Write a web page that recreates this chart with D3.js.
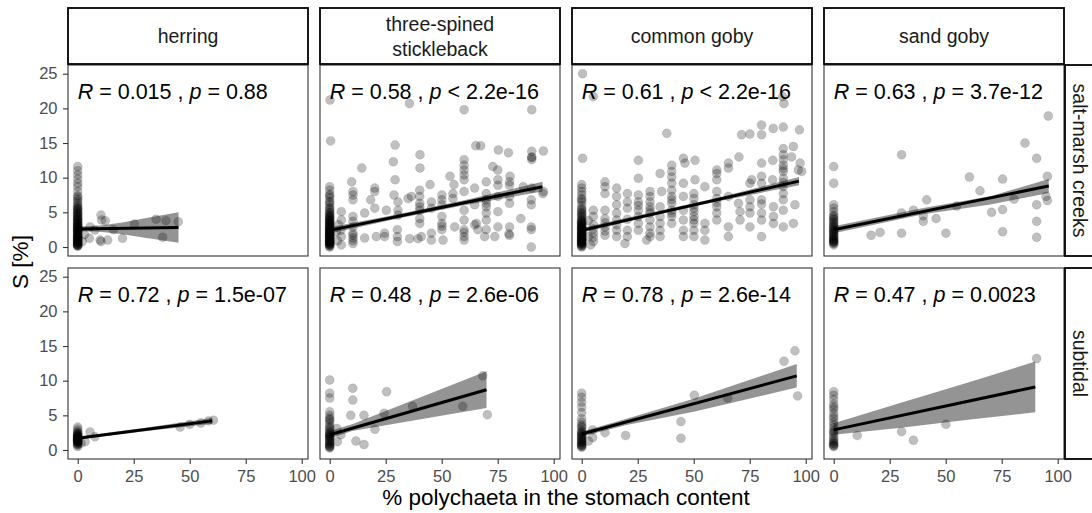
<!DOCTYPE html>
<html>
<head>
<meta charset="utf-8">
<script src="https://cdn.jsdelivr.net/npm/d3@7"></script>
<style>
  body { margin: 0; background: #fff; }
  svg text { font-family: "Liberation Sans", Arial, Helvetica, sans-serif; }
</style>
</head>
<body>
<svg id="chart" width="1092" height="513"></svg>
<script>
// ---- facets ----
const speciesLines = [["herring"], ["three-spined", "stickleback"], ["common goby"], ["sand goby"]];
const habitats = ["salt-marsh creeks", "subtidal"];
const xTicks = [0, 25, 50, 75, 100];
const yTicks = [0, 5, 10, 15, 20, 25];

// ---- correlation labels: [R, p operator, p] ----
const statCreek = [["0.015", "=", "0.88"], ["0.58", "<", "2.2e-16"], ["0.61", "<", "2.2e-16"], ["0.63", "=", "3.7e-12"]];
const statSubtidal = [["0.72", "=", "1.5e-07"], ["0.48", "=", "2.6e-06"], ["0.78", "=", "2.6e-14"], ["0.47", "=", "0.0023"]];

// ---- S [%] of stomachs without polychaeta (x = 0) ----
const herringCreekZero = [11.6, 11.0, 10.4, 9.8, 9.2, 8.7, 8.0, 7.4, 6.9, 6.3, 6.0, 5.8, 5.5, 5.2, 5.0, 4.8, 4.6, 4.4, 4.2, 4.0, 3.8, 3.6, 3.3, 3.0, 2.7, 2.4, 2.1, 1.8, 1.5, 1.2, 0.9, 0.6, 0.3, 0.1, 2.2, 1.6, 1.0, 0.5, 3.9, 2.9, 2.5, 1.3, 0.7, 0.2, 3.1, 1.9, 6.6, 5.4, 4.5, 3.5, 2.6, 1.4, 0.8, 0.4, 7.2, 4.1, 2.0, 1.1, 3.4, 2.8, 2.3, 1.7, 1.2, 0.6, 0.3, 3.2, 2.5, 1.5, 0.9, 0.2, 5.6, 4.9];
const sticklebackCreekZero = [8.7, 8.2, 7.6, 7.1, 6.6, 6.1, 5.7, 5.3, 4.9, 4.5, 4.2, 3.9, 3.6, 3.3, 3.0, 2.7, 2.5, 2.2, 2.0, 1.8, 1.6, 1.4, 1.2, 1.0, 0.8, 0.6, 0.4, 0.2, 0.1, 5.0, 4.0, 3.1, 2.3, 1.5, 0.7, 0.3, 6.4, 7.4, 2.8, 1.1, 3.5, 1.9, 0.9, 0.5, 2.6, 4.7, 1.3, 3.7, 2.9, 2.1, 1.7, 0.0, 5.5, 4.3, 3.4, 2.4, 1.6, 1.0, 0.4, 4.4, 3.2, 2.2, 1.4, 0.6, 3.8, 2.7, 1.8, 0.8];
const gobyCreekZero = [9.0, 8.5, 8.0, 7.5, 7.0, 6.5, 6.0, 5.6, 5.2, 4.8, 4.4, 4.0, 3.7, 3.4, 3.1, 2.8, 2.5, 2.2, 1.9, 1.6, 1.3, 1.0, 0.7, 0.4, 0.1, 4.6, 3.5, 2.6, 1.8, 1.1, 0.5, 0.2, 2.3, 1.5, 3.0, 6.8, 0.0, 0.8, 3.8, 2.0, 1.2, 0.6, 2.9, 5.4, 1.7, 3.3, 2.4, 1.4, 0.3, 4.2, 2.7, 0.9, 3.6, 2.1, 1.3, 0.5, 4.9, 3.2, 1.9, 0.8, 2.6, 1.0];
const sandGobyCreekZero = [11.6, 9.2, 6.1, 5.6, 5.1, 4.6, 4.2, 3.8, 3.4, 3.0, 2.7, 2.4, 2.1, 1.8, 1.5, 1.2, 0.9, 0.6, 0.3, 2.9, 2.0, 1.0, 3.6, 0.5, 4.4, 2.5, 1.4, 0.8, 3.2, 2.2, 1.6, 0.7, 4.0, 1.1];
const herringSubtidalZero = [3.3, 3.0, 2.7, 2.5, 2.3, 2.1, 1.9, 1.7, 1.5, 1.3, 1.1, 0.9, 0.7, 0.5, 2.0, 1.6, 1.2, 1.8, 1.4, 1.0, 2.4, 1.9, 1.5, 1.1, 2.2, 1.7, 1.3, 0.8, 2.0, 1.5];
const sticklebackSubtidalZero = [10.1, 8.2, 7.5, 5.5, 5.0, 4.6, 4.2, 3.8, 3.4, 3.0, 2.7, 2.4, 2.1, 1.8, 1.5, 1.2, 0.9, 0.6, 0.3, 4.4, 3.2, 2.0, 1.0, 0.4, 2.5, 1.6, 0.7, 2.2, 1.3, 0.5, 1.9];
const gobySubtidalZero = [8.2, 7.6, 6.9, 6.2, 5.4, 4.5, 4.0, 3.6, 3.2, 2.8, 2.5, 2.2, 1.9, 1.6, 1.3, 1.0, 0.7, 0.4, 3.4, 2.0, 1.1, 0.5, 2.6, 1.5, 0.8, 2.3, 1.2, 0.6, 1.8];
const sandGobySubtidalZero = [8.4, 7.9, 7.3, 6.6, 5.9, 5.3, 4.5, 3.6, 2.8, 2.0, 1.4, 0.7, 0.5, 4.0, 3.2, 2.4, 1.0, 6.2, 1.7, 0.9, 2.6, 1.2, 0.6, 4.8];

// ---- remaining stomachs: [% polychaeta, S %] ----
const herringCreekPts = [[5.5, 2.9], [5.2, 1.25], [10.4, 4.6], [10.7, 3.9], [12.3, 3.8], [7.7, 2.45], [10, 1.0], [10.4, 0.8], [13.4, 1.0], [15.9, 2.5], [20, 1.25], [25.3, 3.3], [35, 4.0], [39.4, 3.8], [44.9, 3.65], [37.9, 1.4], [3, 1.8], [2, 0.8]];
const sticklebackCreekPts = [
  [0.1, 21.2], [0.4, 15.3],
  [5.2, 5.1], [5.2, 3.9], [5.2, 1.5], [5.2, 0.3], [3, 2.2], [4, 3.2], [3.5, 0.9], [5, 2.4],
  [9.8, 9.4], [10.4, 8], [10.4, 7.5], [10.4, 6.8], [10.4, 4.4], [10.4, 3.7], [10.4, 2.9], [10.4, 2.0], [10.4, 1.3], [10.4, 0.5], [14.3, 11.4], [10.4, 1.7], [10.4, 0.9],
  [15.6, 4.9], [15.6, 1.3], [18.3, 6.8], [20.1, 8.5], [20.1, 8], [20.1, 5.6], [20.8, 1.5],
  [24.5, 1.5], [24.5, 2.0], [25.3, 5.3], [28.4, 12.3], [28.7, 7.5], [29.2, 14.7], [29.2, 9.7],
  [30.5, 6.5], [30.5, 5.3], [30.5, 4.6], [30.2, 2.5], [30.2, 1.5], [30.2, 0.8],
  [35, 7], [36.5, 7.3], [35.6, 20.7], [35.7, 1.2], [39.4, 1.2],
  [40.3, 13.3], [40.3, 11.4], [40.2, 8.2], [40.2, 7.3], [40.2, 6.3], [40.2, 5.3], [40.2, 4.1], [40.2, 3.4], [40.9, 1.5], [40.2, 5.8],
  [44.8, 9], [45.4, 6.5], [45.4, 5.6], [45.4, 2], [45.4, 1],
  [50.1, 7.5], [50.1, 6.8], [50.1, 6.1], [50.1, 4.4], [50.1, 3.4], [50.1, 2.5], [50.6, 1], [50.1, 3.0],
  [53.7, 10.2], [55.5, 9], [55, 7.7], [55, 7], [55.8, 2.9],
  [60, 19.8], [60, 12.6], [60, 11.8], [60, 11.1], [60, 10.4], [60, 9.7], [60, 8], [60, 5.3], [60, 3.9], [60, 2.5], [60, 1.5], [60, 1], [60, 2.1],
  [64.7, 8.5], [64.7, 6.1], [64.7, 3.2], [65.2, 14.6], [67.4, 14.6], [65.5, 3.4], [66.2, 2.5],
  [69.9, 9.4], [69.9, 7.7], [69.9, 6.8], [69.9, 5.8], [69.9, 4.9], [69.9, 3.9], [69.9, 2.5], [69.2, 1.5], [72.8, 11.6], [73.7, 1.5], [69.9, 6.3],
  [75.3, 14], [75, 11.1], [75.1, 9.7], [75.1, 8.9], [75.1, 7.3], [75.1, 5.1], [75.1, 2.9],
  [79.8, 13.6], [80.5, 10.2], [80.3, 9.4], [80.3, 8.9], [80.3, 7.3], [80.3, 6.3], [80.3, 2.9], [80.3, 1.7], [80, 1.9],
  [85.3, 4.1], [86.4, 8.7],
  [90.2, 19.8], [90.2, 13.8], [90.2, 13], [90.2, 12.6], [90.2, 8.5], [90, 6.8], [90, 6.1], [90, 2.9], [90, 2.5], [90, 0], [90.2, 12.9],
  [95.4, 13.85], [95.4, 8], [95.2, 7.7]
];
const gobyCreekPts = [
  [0.4, 25], [0.4, 12.8], [5.2, 21.7],
  [5.2, 5.3], [5.2, 4.4], [5.2, 3.2], [5.2, 2], [5.2, 0.8], [3, 1.5], [3, 3.8], [4, 0.3], [5.2, 2.6], [5.2, 1.4],
  [10.4, 9.4], [10.4, 8.7], [10.4, 7.7], [10.4, 5.3], [10.4, 4.1], [10.4, 2.9], [10.4, 1.7], [10.4, 3.5], [10.4, 2.3],
  [15.6, 8.5], [15.6, 7.3], [15.6, 6.1], [15.6, 4.9], [15.6, 3.9], [15.6, 2.4], [15.6, 1.5], [15.6, 3.2],
  [20.4, 7.7], [20.4, 6.5], [20.4, 5.6], [20.4, 2.4], [20.4, 1.5], [19.3, 0.5], [20.4, 4.0],
  [25.3, 12.5], [25.3, 9.9], [25.3, 7.5], [25.3, 6.5], [25.3, 5.3], [25.3, 4.4], [25.3, 3.4], [25.3, 2.4], [29, 1], [25.3, 6.0],
  [30.5, 8], [30.5, 7.3], [30.5, 6.5], [30.5, 5.8], [30.5, 4.9], [30.5, 3.9], [30.5, 2.9], [30.5, 2], [30.5, 1.5], [30.5, 5.3],
  [35, 10.6], [35.7, 8], [35, 5.8], [35, 4.4], [35, 3.4], [35, 2.4], [35, 1.5], [38, 16.4],
  [40.2, 11.8], [40.2, 10.9], [40.2, 10.1], [40.2, 9.2], [40.2, 8.2], [40.2, 7.3], [40.2, 6.3], [40.2, 5.3], [40.2, 4.4], [40.2, 3.4], [40.2, 6.8], [40.2, 4.9],
  [45.4, 12.8], [46.1, 12.1], [45.4, 9.2], [45.4, 7.3], [45.4, 5.3], [45.4, 3.9], [45.4, 2.4], [45.4, 1.5],
  [50.6, 12.5], [50.6, 9.7], [50.1, 7.7], [50.1, 7], [50.1, 6.1], [50.1, 5.1], [50.1, 4.4], [50.1, 3.4], [50.1, 2.4], [50.1, 1.5], [50.1, 5.6], [50.1, 3.9],
  [55, 8.7], [55, 3.4], [55, 2.4], [55, 1],
  [60.3, 11.1], [60.3, 10.6], [60.3, 9.7], [60.3, 8], [60.3, 7], [60.3, 5.8], [60.3, 4.9], [60.3, 3.9], [60.3, 6.4],
  [65.5, 12.1], [65.5, 11.4], [65.5, 7.3], [65.5, 2.9], [65.5, 1.5],
  [70.2, 13], [70, 6.3], [70.7, 5.1], [70.7, 3.9], [71.4, 16.2],
  [75.1, 16.3], [75.1, 9.2], [75.1, 6.8], [75.1, 5.8], [75.1, 4.9], [75.1, 2.9], [75.9, 9.7],
  [80.3, 17.6], [80.3, 16.2], [80.3, 12.1], [80.3, 10.2], [80.3, 9.2], [80.3, 6.8], [80.3, 4.9], [80.3, 3.9], [80.3, 1.5], [80.3, 6.2],
  [85.5, 17.1], [85.3, 12.5], [85.2, 9.7], [85.6, 5.8], [85.6, 4.4], [85.6, 3.4],
  [89.7, 21.7], [90.3, 20.7], [90, 17.3], [90, 14.2], [90, 13.3], [90, 12.6], [90, 11.8], [90, 10.9], [90, 9.9], [90, 8.7], [90, 7.7], [90, 6.8], [90, 5.3], [90, 2.9], [90, 11.3], [90, 9.3],
  [94.5, 14.5], [93.7, 13], [97.5, 12.1], [98.2, 10.9], [96.7, 11.1], [97.2, 16.9], [95.2, 6.1], [94.5, 3.4]
];
const sandGobyCreekPts = [[95.8, 18.9], [85.4, 15], [30.3, 13.3], [90.6, 12.8], [60.6, 10.1], [75.4, 9.8], [95.4, 10.2], [65.3, 8.1], [41.5, 6.8], [80.5, 6.9], [94.8, 7.3], [95.4, 6.7], [75.4, 5.4], [90.6, 6.1], [70.5, 5], [54.9, 5.9], [35.6, 5.3], [30.3, 4.9], [40, 4.5], [40, 3.7], [45.7, 4.1], [90.6, 3.7], [16.7, 1.7], [20.7, 2.1], [30.3, 2], [50.1, 2], [75.4, 2.2], [90.6, 1.4]];
const herringSubtidalPts = [[1.5, 1.0], [3.3, 1.2], [5.5, 2.6], [7.7, 1.9], [45.7, 3.3], [50, 3.7], [55, 3.9], [58.4, 4.2], [60.6, 4.3]];
const sticklebackSubtidalPts = [[10.3, 8.9], [10.3, 7.2], [25.4, 8.4], [9.4, 5], [15.3, 5], [24.3, 5.3], [20.2, 3], [37, 6.3], [59.4, 6.3], [68.3, 10.7], [70.4, 5.1], [11.7, 1.3], [15.3, 0.8], [3.4, 1.2], [3.1, 3.1], [5, 2.2]];
const gobySubtidalPts = [[95.2, 14.3], [90.3, 12.8], [96.4, 7.8], [50.3, 7.9], [65.2, 7.5], [44.3, 4.1], [44.3, 1.7], [19.6, 2.1], [10.4, 2.5], [4.9, 2.9], [4.9, 1.8], [3, 1.3]];
const sandGobySubtidalPts = [[90.6, 13.2], [50.1, 3.7], [30.3, 2.65], [35.6, 1.4], [10.5, 2.1]];

// ---- fitted linear trend: [x start, x end] and [y start, y end] ----
const fitXCreek = [[0, 45], [0, 95], [0, 97], [0, 96]];
const fitYCreek = [[2.6, 2.8], [2.4, 8.7], [2.4, 9.5], [2.5, 8.8]];
const fitXSubtidal = [[0, 60], [0, 70], [0, 96], [0, 90]];
const fitYSubtidal = [[1.7, 4.2], [2.2, 8.7], [2.3, 10.7], [2.9, 9.1]];

// ---- 95% confidence band: x positions, lower and upper limits ----
const bandXCreek = [[0, 5, 10, 20, 30, 45], [0, 30, 60, 95], [0, 30, 60, 97], [0, 40, 70, 96]];
const bandLoCreek = [[2.2, 2.26, 2.2, 1.85, 1.33, 0.6], [1.95, 4.09, 6.03, 8.0], [2.05, 4.39, 6.54, 8.9], [2.0, 4.72, 6.13, 7.8]];
const bandHiCreek = [[3.0, 2.98, 3.1, 3.55, 4.13, 5.0], [2.85, 4.69, 6.73, 9.4], [2.75, 4.89, 7.04, 10.1], [3.0, 5.62, 7.33, 9.8]];
const bandXSubtidal = [[0, 30, 60], [0, 10, 70], [0, 20, 50, 96], [0, 30, 60, 90]];
const bandLoSubtidal = [[1.5, 2.7, 3.8], [1.65, 2.75, 6.05], [1.95, 3.6, 5.5, 9.0], [2.2, 3.2, 4.35, 5.45]];
const bandHiSubtidal = [[1.9, 3.2, 4.6], [2.75, 3.7, 11.35], [2.65, 4.5, 7.4, 12.4], [3.85, 6.8, 9.75, 12.75]];

const creekZero = [herringCreekZero, sticklebackCreekZero, gobyCreekZero, sandGobyCreekZero];
const creekPts = [herringCreekPts, sticklebackCreekPts, gobyCreekPts, sandGobyCreekPts];
const subZero = [herringSubtidalZero, sticklebackSubtidalZero, gobySubtidalZero, sandGobySubtidalZero];
const subPts = [herringSubtidalPts, sticklebackSubtidalPts, gobySubtidalPts, sandGobySubtidalPts];

// ---- layout ----
const svg = d3.select("#chart");
const colLeft = [68, 320, 572, 824];
const panelW = 240;
const rowTop = [65, 268];
const panelH = 191;
const stripTop = 8, stripH = 56;
const tickColor = "#333333", tickText = "#4d4d4d";

const defs = svg.append("defs");

function drawPanel(col, row) {
  const left = colLeft[col], top = rowTop[row];
  const x = d3.scaleLinear().domain([0, 100]).range([left + 9.7, left + 233.7]);
  const y = d3.scaleLinear().domain([0, 25]).range([top + 182, top + 8.7]);
  const zero = row === 0 ? creekZero[col] : subZero[col];
  const pts = zero.map(v => [0, v]).concat(row === 0 ? creekPts[col] : subPts[col]);
  const fx = row === 0 ? fitXCreek[col] : fitXSubtidal[col];
  const fy = row === 0 ? fitYCreek[col] : fitYSubtidal[col];
  const bx = row === 0 ? bandXCreek[col] : bandXSubtidal[col];
  const blo = row === 0 ? bandLoCreek[col] : bandLoSubtidal[col];
  const bhi = row === 0 ? bandHiCreek[col] : bandHiSubtidal[col];
  const stat = row === 0 ? statCreek[col] : statSubtidal[col];

  const clipId = `clip-${row}-${col}`;
  defs.append("clipPath").attr("id", clipId)
    .append("rect").attr("x", left).attr("y", top).attr("width", panelW).attr("height", panelH);

  const g = svg.append("g").attr("clip-path", `url(#${clipId})`);
  g.append("rect").attr("x", left).attr("y", top).attr("width", panelW).attr("height", panelH).attr("fill", "#fff");

  // points
  g.append("g").selectAll("circle").data(pts).join("circle")
    .attr("cx", d => x(d[0])).attr("cy", d => y(d[1])).attr("r", 4.5)
    .attr("fill", "rgba(0,0,0,0.25)")
    .attr("stroke", "rgba(0,0,0,0.12)").attr("stroke-width", 0.8);

  // confidence band
  const band = bx.map((v, i) => ({ x: v, lo: blo[i], hi: bhi[i] }));
  g.append("path").datum(band)
    .attr("d", d3.area().x(d => x(d.x)).y0(d => y(d.lo)).y1(d => y(d.hi)))
    .attr("fill", "#000").attr("fill-opacity", 0.42);

  // trend line
  g.append("path").datum(fx.map((v, i) => [v, fy[i]]))
    .attr("d", d3.line().x(d => x(d[0])).y(d => y(d[1])))
    .attr("stroke", "#000").attr("stroke-width", 3).attr("fill", "none");

  // correlation label
  const t = svg.append("text").attr("x", x(0)).attr("y", y(21.4))
    .attr("font-size", 21.5).attr("fill", "#000").style("white-space", "pre");
  t.append("tspan").attr("font-style", "italic").text("R");
  t.append("tspan").text(` = ${stat[0]} , `);
  t.append("tspan").attr("font-style", "italic").text("p");
  t.append("tspan").text(` ${stat[1]} ${stat[2]}`);

  // border
  svg.append("rect").attr("x", left).attr("y", top).attr("width", panelW).attr("height", panelH)
    .attr("fill", "none").attr("stroke", "#333").attr("stroke-width", 1.1);

  // axes
  if (col === 0) {
    const ax = svg.append("g").attr("transform", `translate(${left},0)`)
      .call(d3.axisLeft(y).tickValues(yTicks).tickSize(5).tickPadding(5.5));
    ax.select(".domain").remove();
    ax.selectAll("line").attr("stroke", tickColor).attr("stroke-width", 1.1);
    ax.selectAll("text").attr("font-size", 16.5).attr("fill", tickText).attr("font-family", null);
  }
  if (row === 1) {
    const ax = svg.append("g").attr("transform", `translate(0,${top + panelH})`)
      .call(d3.axisBottom(x).tickValues(xTicks).tickSize(5).tickPadding(6));
    ax.select(".domain").remove();
    ax.selectAll("line").attr("stroke", tickColor).attr("stroke-width", 1.1);
    ax.selectAll("text").attr("font-size", 16.5).attr("fill", tickText).attr("font-family", null);
  }
}

for (let r = 0; r < 2; r++) for (let c = 0; c < 4; c++) drawPanel(c, r);

// column strips
speciesLines.forEach((lines, c) => {
  svg.append("rect").attr("x", colLeft[c]).attr("y", stripTop).attr("width", panelW).attr("height", stripH)
    .attr("fill", "#fff").attr("stroke", "#000").attr("stroke-width", 1.8);
  const cy = stripTop + stripH / 2;
  const lh = 25;
  lines.forEach((s, i) => {
    svg.append("text").attr("x", colLeft[c] + panelW / 2)
      .attr("y", cy + (i - (lines.length - 1) / 2) * lh)
      .attr("dy", "0.36em").attr("text-anchor", "middle")
      .attr("font-size", 19.5).attr("fill", "#1a1a1a").text(s);
  });
});

// row strips
habitats.forEach((h, r) => {
  svg.append("rect").attr("x", 1065).attr("y", rowTop[r]).attr("width", 30).attr("height", panelH)
    .attr("fill", "#fff").attr("stroke", "#000").attr("stroke-width", 1.8);
  svg.append("text")
    .attr("transform", `translate(1080,${rowTop[r] + panelH / 2}) rotate(90)`)
    .attr("text-anchor", "middle").attr("dy", "0.36em")
    .attr("font-size", 19.5).attr("fill", "#1a1a1a").text(h);
});

// axis titles
svg.append("text").attr("x", (colLeft[0] + colLeft[3] + panelW) / 2).attr("y", 505)
  .attr("text-anchor", "middle").attr("font-size", 22.5).attr("fill", "#000")
  .text("% polychaeta in the stomach content");
svg.append("text")
  .attr("transform", `translate(28,${(rowTop[0] + rowTop[1] + panelH) / 2}) rotate(-90)`)
  .attr("text-anchor", "middle").attr("font-size", 22.5).attr("fill", "#000")
  .text("S [%]");
</script>
</body>
</html>
